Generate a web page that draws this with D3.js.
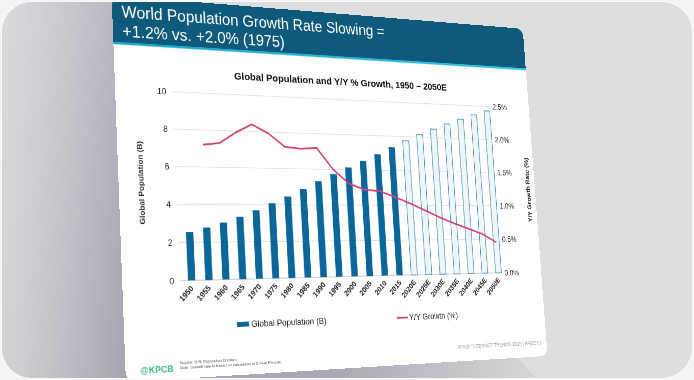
<!DOCTYPE html>
<html><head><meta charset="utf-8">
<script src="https://cdn.jsdelivr.net/npm/d3@7"></script>
<style>
html,body{margin:0;padding:0;width:694px;height:380px;overflow:hidden;background:#f4f4f4;}
#frame{position:absolute;left:2px;top:2px;width:690px;height:376px;border-radius:30px;overflow:hidden;background:#dedede;box-shadow:0 0 0 1px #fbfbfb;}
#bg{position:absolute;left:0;top:0;}
#slide{position:absolute;left:0;top:0;width:720px;height:540px;transform-origin:0 0;border-radius:14px;overflow:hidden;background:#fff;}
text{font-family:"Liberation Sans",Arial,Helvetica,sans-serif;}
</style></head><body>
<div id="frame"><svg id="bg" width="690" height="376"></svg><div id="slide"></div></div>
<script>
// ---- data ----
const years = ["1950","1955","1960","1965","1970","1975","1980","1985","1990","1995","2000","2005","2010","2015","2020E","2025E","2030E","2035E","2040E","2045E","2050E"];
const population = [2.53,2.77,3.03,3.34,3.70,4.08,4.45,4.87,5.33,5.74,6.13,6.52,6.93,7.35,7.76,8.14,8.50,8.84,9.16,9.46,9.73];
const growth = [null,1.80,1.83,1.98,2.10,1.98,1.80,1.78,1.80,1.50,1.30,1.22,1.20,1.12,1.03,0.93,0.83,0.74,0.66,0.58,0.45];
const estimated = [false,false,false,false,false,false,false,false,false,false,false,false,false,false,true,true,true,true,true,true,true];
const leftTicks = [0,2,4,6,8,10];
const rightTicks = [0,0.5,1.0,1.5,2.0,2.5];

// ---- layout (slide design space 720x540) ----
const W = 720, H = 540;
const PL = 85.6, PR = 641.6, PT = 134.7, PB = 404.2;
const FX = 2, FY = 2;
const scrTL = [172-FX, 91.7-FY], scrTR = [490-FX, 106.7-FY], scrBR = [502-FX, 272.7-FY], scrBL = [180-FX, 280.7-FY];

function homography(src, dst){
  const A=[], B=[];
  for(let i=0;i<4;i++){
    const [x,y]=src[i], [X,Y]=dst[i];
    A.push([x,y,1,0,0,0,-x*X,-y*X]); B.push(X);
    A.push([0,0,0,x,y,1,-x*Y,-y*Y]); B.push(Y);
  }
  const n=8;
  for(let c=0;c<n;c++){
    let p=c; for(let r=c+1;r<n;r++) if(Math.abs(A[r][c])>Math.abs(A[p][c])) p=r;
    [A[c],A[p]]=[A[p],A[c]]; [B[c],B[p]]=[B[p],B[c]];
    for(let r=0;r<n;r++){ if(r===c) continue; const f=A[r][c]/A[c][c]; for(let k=c;k<n;k++) A[r][k]-=f*A[c][k]; B[r]-=f*B[c]; }
  }
  return B.map((b,i)=>b/A[i][i]);
}
const h = homography([[PL,PT],[PR,PT],[PR,PB],[PL,PB]],[scrTL,scrTR,scrBR,scrBL]);
document.getElementById('slide').style.transform =
  `matrix3d(${h[0]},${h[3]},0,${h[6]},${h[1]},${h[4]},0,${h[7]},0,0,1,0,${h[2]},${h[5]},0,1)`;

// ---- background shadow ----
const bg = d3.select('#bg');
const bgd = bg.append('defs');
const sg = bgd.append('linearGradient').attr('id','shadow').attr('gradientUnits','userSpaceOnUse')
  .attr('x1',0).attr('y1',0).attr('x2',560).attr('y2',0);
[[0,'#d3d3d6'],[0.12,'#bdbcc4'],[0.21,'#a8a6b2'],[0.6,'#aba9b5'],[0.8,'#c4c3ca'],[0.96,'#d6d6d9']]
  .forEach(([o,c])=>sg.append('stop').attr('offset',o).attr('stop-color',c));
const vg = bgd.append('linearGradient').attr('id','vshade').attr('x1',0).attr('y1',0).attr('x2',0).attr('y2',1);
vg.append('stop').attr('offset',0).attr('stop-color','#ffffff').attr('stop-opacity',0.18);
vg.append('stop').attr('offset',1).attr('stop-color','#ffffff').attr('stop-opacity',0);
bg.append('path').attr('d','M0,0 L114,0 L514,354 L534,376 L0,376 Z').attr('fill','url(#shadow)');
bg.append('path').attr('d','M0,0 L114,0 L514,354 L534,376 L0,376 Z').attr('fill','url(#vshade)');

// ---- slide ----
const svg = d3.select('#slide').append('svg').attr('width',W).attr('height',H);
const defs = svg.append('defs');
const st = defs.append('linearGradient').attr('id','stripe').attr('x1',0).attr('x2',1);
st.append('stop').attr('offset',0).attr('stop-color','#1ea3c6');
st.append('stop').attr('offset',1).attr('stop-color','#33c4e4');

svg.append('rect').attr('x',0).attr('y',0).attr('width',W).attr('height',67).attr('fill','#0d5a7c');
svg.append('rect').attr('x',0).attr('y',67).attr('width',W).attr('height',3.5).attr('fill','url(#stripe)');

const title = svg.append('text').attr('fill','#fff').style('font-size','24px');
title.append('tspan').attr('x',14).attr('y',31).text('World Population Growth Rate Slowing =');
title.append('tspan').attr('x',14).attr('y',59).text('+1.2% vs. +2.0% (1975)');

svg.append('text').attr('x',372).attr('y',112).attr('text-anchor','middle')
  .style('font-size','15.5px').style('font-weight','bold').attr('fill','#111')
  .text('Global Population and Y/Y % Growth, 1950 – 2050E');

// scales
const x = d3.scalePoint().domain(years).range([103.4, 634.7]);
const bw = x.step()*0.425;
const y = d3.scaleLinear().domain([0,10]).range([PB,PT]);
const y2 = d3.scaleLinear().domain([0,2.5]).range([PB,PT]);

// gridlines
svg.append('g').selectAll('line').data(leftTicks).join('line')
  .attr('x1',PL).attr('x2',PR).attr('y1',d=>y(d)).attr('y2',d=>y(d))
  .attr('stroke',d=>d===0?'#cfcfcf':'#e2e2e2').attr('stroke-width',d=>d===0?1.6:1.2);

// axes
const ax = svg.append('g').attr('transform',`translate(${PL},0)`)
  .call(d3.axisLeft(y).tickValues(leftTicks).tickSize(0).tickPadding(9).tickFormat(d3.format('d')));
ax.select('.domain').remove();
ax.selectAll('text').style('font-size','12.5px').attr('fill','#222');
const ax2 = svg.append('g').attr('transform',`translate(${PR},0)`)
  .call(d3.axisRight(y2).tickValues(rightTicks).tickSize(0).tickPadding(5).tickFormat(d=>d.toFixed(1)+'%'));
ax2.select('.domain').remove();
ax2.selectAll('text').style('font-size','12.5px').attr('fill','#222');

// bars
const rows = years.map((yr,i)=>({yr, v:population[i], g:growth[i], e:estimated[i]}));
svg.append('g').selectAll('rect').data(rows).join('rect')
  .attr('x',d=>x(d.yr)-bw/2).attr('width',bw)
  .attr('y',d=>y(d.v)).attr('height',d=>y(0)-y(d.v))
  .attr('fill',d=>d.e?'#f0f5f9':'#0b679a')
  .attr('stroke',d=>d.e?'#3a8cc0':'none').attr('stroke-width',1.1);

// line
const line = d3.line().x(d=>x(d.yr)).y(d=>y2(d.g));
svg.append('path').datum(rows.filter(d=>d.g!==null)).attr('d',line)
  .attr('fill','none').attr('stroke','#d6407a').attr('stroke-width',2.6).attr('stroke-linejoin','round');

// x labels
svg.append('g').selectAll('text').data(years).join('text')
  .attr('transform',d=>`translate(${x(d)+3},${PB+12}) rotate(-45)`)
  .attr('text-anchor','end').style('font-size','11.5px').style('font-weight','bold').attr('fill','#222')
  .text(d=>d);

// axis titles
svg.append('text').attr('transform',`translate(37,266) rotate(-90)`).attr('text-anchor','middle')
  .style('font-size','11.5px').style('font-weight','bold').attr('fill','#222').text('Global Population (B)');
svg.append('text').attr('transform',`translate(710,270) rotate(-90)`).attr('text-anchor','middle')
  .style('font-size','11px').style('font-weight','bold').attr('fill','#222').text('Y/Y Growth Rate (%)');

// legend
svg.append('rect').attr('x',170.5).attr('y',465).attr('width',19).attr('height',7).attr('fill','#0b679a');
svg.append('text').attr('x',193).attr('y',473.5).style('font-size','13px').attr('fill','#222').text('Global Population (B)');
svg.append('line').attr('x1',438.6).attr('x2',459).attr('y1',469).attr('y2',469).attr('stroke','#d6407a').attr('stroke-width',2.6);
svg.append('text').attr('x',461).attr('y',473.5).style('font-size','13px').attr('fill','#222').text('Y/Y Growth (%)');

// footer
svg.append('text').attr('x',21).attr('y',530).style('font-size','13px').style('font-weight','bold').attr('fill','#3dba7c').text('@KPCB');
svg.append('text').attr('x',80).attr('y',520).style('font-size','6px').attr('fill','#555').text('Source: U.N. Population Division.');
svg.append('text').attr('x',80).attr('y',527).style('font-size','6px').attr('fill','#555').text('Note: Growth rate is based on calculation of 5-Year Periods.');
svg.append('text').attr('x',710).attr('y',521).attr('text-anchor','end').style('font-size','8.2px').attr('fill','#9a9a9a').text('KPCB INTERNET TRENDS 2015  |  PAGE 51');
</script>
</body></html>
